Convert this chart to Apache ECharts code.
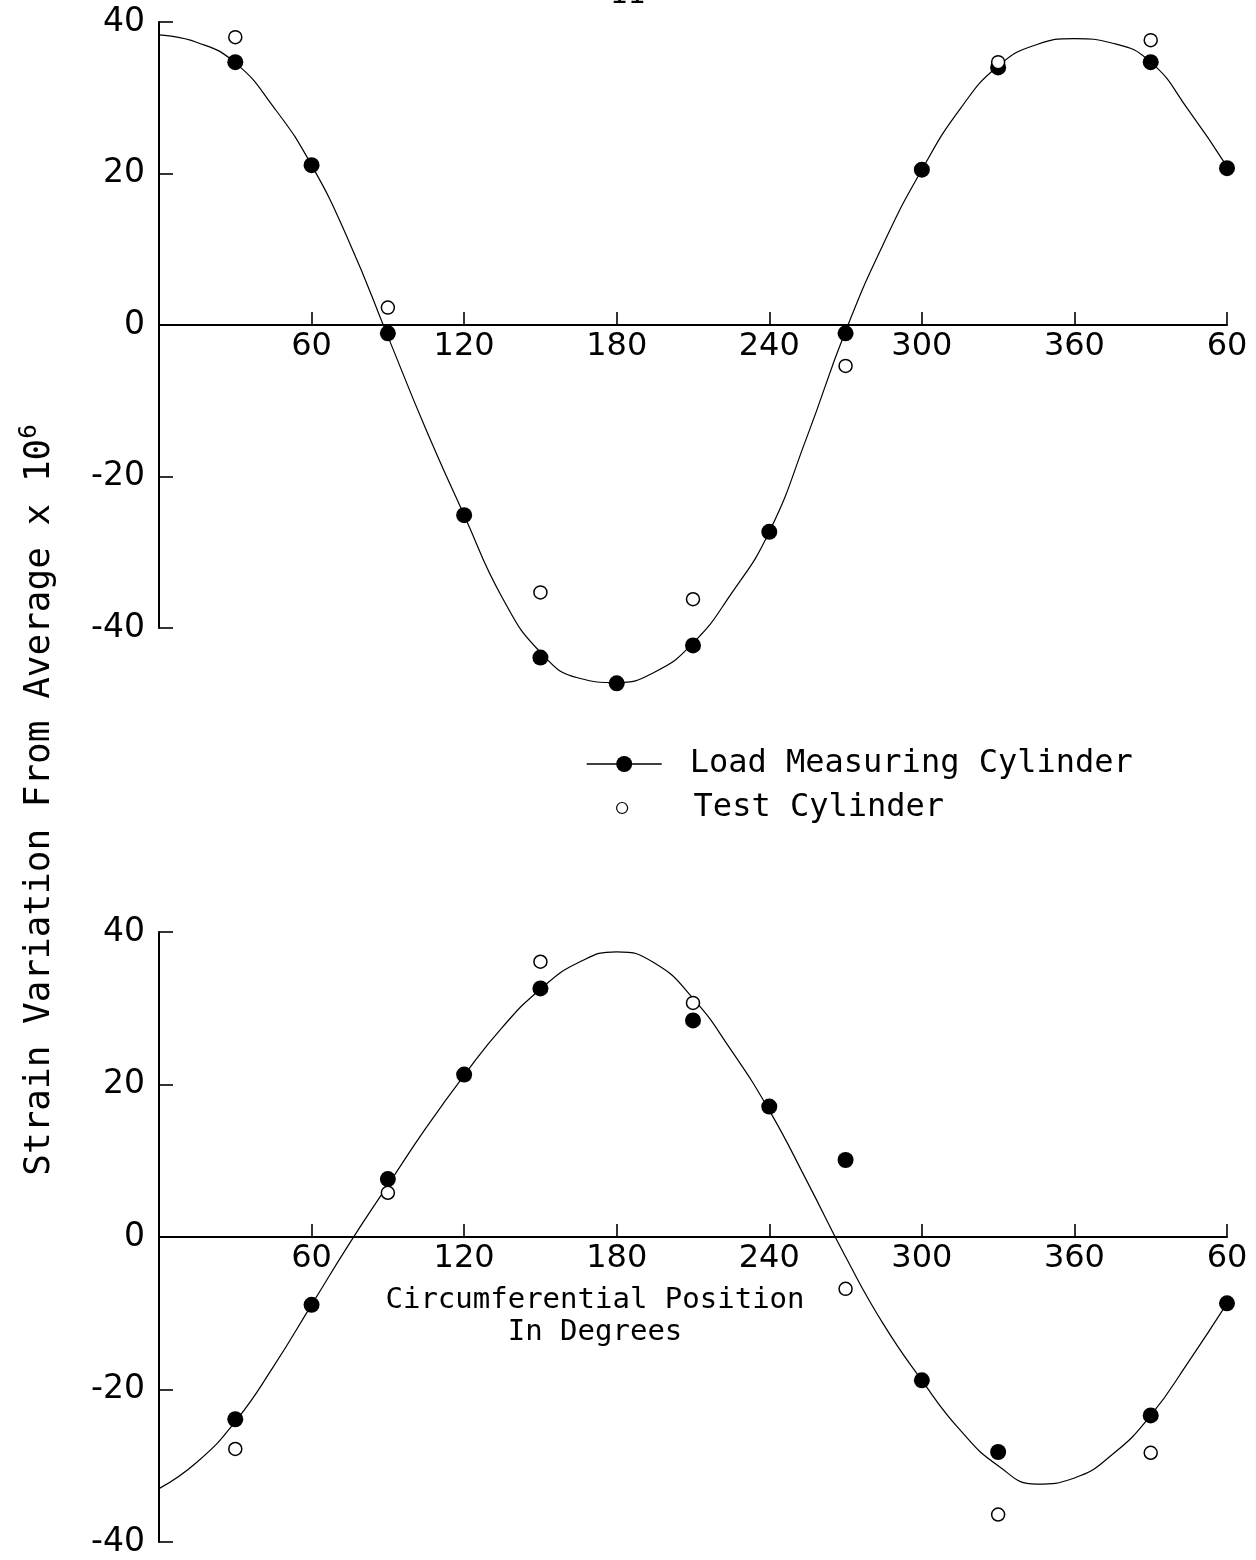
<!DOCTYPE html>
<html><head><meta charset="utf-8">
<script src="https://cdn.jsdelivr.net/npm/echarts@6/dist/echarts.min.js"></script>
<style>html,body{margin:0;padding:0;background:#fff}#c{width:1256px;height:1560px}</style>
</head><body><div id="c"></div>
<script>
// ---- data ----
const curveDeg    = [0,15,30,45,60,75,90,105,120,135,150,165,180,195,210,225,240,255,270,285,300,315,330,345,360,375,390,405,420];
const topCurve    = [38.3,37.3,34.6,28.8,21.1,10.8,-1.5,-13.8,-25.1,-36.0,-43.2,-46.6,-47.2,-45.8,-42.0,-35.5,-27.3,-14.6,-0.8,10.8,20.5,28.5,34.2,37.0,37.8,37.2,34.7,28.3,20.9];
const bottomCurve = [-33.0,-29.5,-24.2,-17.0,-8.9,-0.8,6.8,14.3,21.2,27.5,32.5,36.0,37.4,35.9,31.3,24.5,16.6,7.2,-2.6,-11.5,-18.8,-25.3,-30.0,-32.4,-31.6,-28.5,-23.4,-16.3,-8.7];
const dotDeg      = [30,60,90,120,150,180,210,240,270,300,330,360,390,420];
const topLoad     = [34.7,21.1,-1.1,-25.1,-43.9,-47.3,-42.3,-27.3,-1.1,20.5,34.0,null,34.7,20.7];
const topTest     = [38.0,null,2.3,null,-35.3,null,-36.2,null,-5.4,null,34.7,null,37.6,null];
const bottomLoad  = [-23.9,-8.9,7.6,21.3,32.6,null,28.4,17.1,10.1,-18.8,-28.2,null,-23.4,-8.7];
const bottomTest  = [-27.8,null,5.8,null,36.1,null,30.7,null,-6.8,null,-36.4,null,-28.3,null];
const xTickLabels = {60:'60',120:'120',180:'180',240:'240',300:'300',360:'360',420:'60'};
const seriesNames = ['Load Measuring Cylinder','Test Cylinder'];
const yTitle = 'Strain Variation From Average x 10';
const yTitleSup = '6';
const xTitle = 'Circumferential Position\nIn Degrees';

const FONT = 'DejaVu Sans';
const TFONT = 'DejaVu Sans Mono';
const pairs = (xs, vs) => xs.map((x,i)=>[x, vs[i]]).filter(p => p[1] !== null);

const chart = echarts.init(document.getElementById('c'), null, {renderer:'canvas'});

const grids = [
  {left:159, top:22, width:1068, height:606},
  {left:159, top:932, width:1068, height:610}
];
const YMIN = -40, YMAX = 40;

function xAxisCfg(gi){
  // place the axis on the y = 0 line of its panel
  const off = -grids[gi].height * (0 - YMIN) / (YMAX - YMIN);
  return {
    type:'value', gridIndex:gi, min:0, max:420, interval:60, position:'bottom', offset:off,
    axisLine:{show:true, onZero:false, lineStyle:{color:'#000', width:2}},
    axisTick:{show:true, inside:true, length:13, lineStyle:{color:'#000', width:1.6}},
    axisLabel:{formatter:v => xTickLabels[v] || '', color:'#000', fontFamily:FONT, fontSize:32, margin:6},
    splitLine:{show:false}
  };
}
function yAxisCfg(gi){
  return {
    type:'value', gridIndex:gi, min:YMIN, max:YMAX, interval:20,
    axisLine:{show:true, onZero:false, lineStyle:{color:'#000', width:2}},
    axisTick:{show:true, inside:true, length:14, lineStyle:{color:'#000', width:1.6}},
    axisLabel:{color:'#000', fontFamily:FONT, fontSize:33, margin:14},
    splitLine:{show:false}
  };
}
function curveSeries(gi, vals){
  return {type:'line', name:seriesNames[0], xAxisIndex:gi, yAxisIndex:gi, clip:false,
    data:pairs(curveDeg, vals), smooth:0.5, symbol:'none', z:2,
    lineStyle:{color:'#000', width:1.2}, itemStyle:{color:'#000'}};
}
function loadSeries(gi, vals){
  return {type:'scatter', name:seriesNames[0], xAxisIndex:gi, yAxisIndex:gi, clip:false,
    data:pairs(dotDeg, vals), symbol:'circle', symbolSize:16, z:3,
    itemStyle:{color:'#000', opacity:1}};
}
function testSeries(gi, vals){
  return {type:'scatter', name:seriesNames[1], xAxisIndex:gi, yAxisIndex:gi, clip:false,
    data:pairs(dotDeg, vals), symbol:'circle', symbolSize:13, z:4,
    itemStyle:{color:'#fff', borderColor:'#000', borderWidth:1.5, opacity:1}};
}

chart.setOption({
  animation:false,
  backgroundColor:'#fff',
  grid:grids,
  xAxis:[xAxisCfg(0), xAxisCfg(1)],
  yAxis:[yAxisCfg(0), yAxisCfg(1)],
  legend:[
    {data:[seriesNames[0]], left:581, top:743, itemWidth:75, itemHeight:20, selectedMode:false,
     lineStyle:{width:1.4, color:'#000'},
     textStyle:{fontFamily:TFONT, fontSize:32, color:'#000', padding:[0,0,0,23]}},
    {data:[{name:seriesNames[1], icon:'circle', itemStyle:{color:'#fff', borderColor:'#000', borderWidth:1.2}}],
     left:611, top:787, itemWidth:75, itemHeight:11, selectedMode:false,
     textStyle:{fontFamily:TFONT, fontSize:32, color:'#000', padding:[0,0,0,29]}}
  ],
  graphic:[
    {type:'text', x:40, y:800, rotation:Math.PI/2,
     style:{text:'{a|' + yTitle + '}{s|' + yTitleSup + '}', align:'center', verticalAlign:'middle',
       rich:{a:{fontFamily:TFONT, fontSize:36, fill:'#000', color:'#000'},
             s:{fontFamily:TFONT, fontSize:24, fill:'#000', color:'#000', padding:[0,0,20,0]}}}},
    {type:'text', x:595, y:1316,
     style:{text:xTitle, align:'center', verticalAlign:'middle', fontFamily:TFONT, fontSize:29, lineHeight:32, fill:'#000'}},
    {type:'text', x:628, y:-4,
     style:{text:'11', align:'center', verticalAlign:'middle', fontFamily:FONT, fontSize:28, fill:'#000'}}
  ],
  series:[
    curveSeries(0, topCurve), curveSeries(1, bottomCurve),
    loadSeries(0, topLoad), loadSeries(1, bottomLoad),
    testSeries(0, topTest), testSeries(1, bottomTest)
  ]
});
</script>
</body></html>
